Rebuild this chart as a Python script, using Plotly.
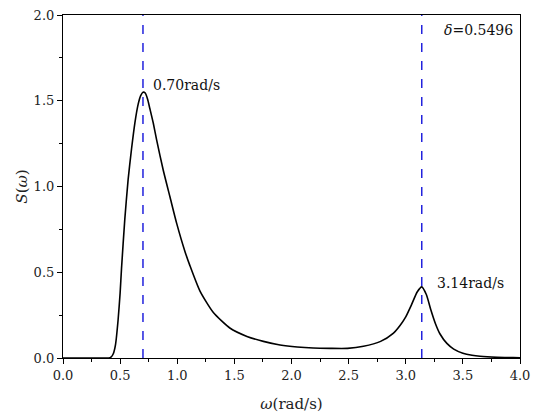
import plotly.graph_objects as go

# Spectrum S(omega)
omega = [0.0, 0.30, 0.40, 0.42, 0.44, 0.46, 0.482, 0.50, 0.512, 0.541, 0.570, 0.600, 0.629, 0.658,
         0.68, 0.70, 0.72, 0.74, 0.76, 0.79, 0.82, 0.877, 0.936, 0.995, 1.068, 1.11, 1.199, 1.316,
         1.46, 1.61, 1.754, 1.90, 2.05, 2.19, 2.34, 2.49, 2.63, 2.78, 2.89, 2.95, 3.0,
         3.05, 3.10, 3.14, 3.18, 3.22, 3.26, 3.30, 3.36, 3.42, 3.50, 3.58, 3.65, 3.80, 3.94, 4.0]
S = [0.0, 0.0, 0.0, 0.005, 0.025, 0.08, 0.22, 0.38, 0.52, 0.81, 1.04, 1.22, 1.37, 1.48,
     1.53, 1.55, 1.545, 1.51, 1.455, 1.37, 1.27, 1.096, 0.94, 0.785, 0.62, 0.54, 0.39, 0.265,
     0.175, 0.126, 0.097, 0.076, 0.064, 0.058, 0.056, 0.056, 0.068, 0.097, 0.144, 0.19, 0.24,
     0.31, 0.385, 0.415, 0.37, 0.28, 0.2, 0.14, 0.085, 0.052, 0.028, 0.016, 0.01, 0.004, 0.002, 0.001]

peak_freqs = [0.70, 3.14]
peak_labels = ["0.70rad/s", "3.14rad/s"]
peak_label_pos = [(0.77, 1.59), (3.26, 0.44)]
delta_text = "<i>δ</i>=0.5496"

x_ticks = [0.0, 0.5, 1.0, 1.5, 2.0, 2.5, 3.0, 3.5, 4.0]
y_ticks = [0.0, 0.5, 1.0, 1.5, 2.0]

FONT = "DejaVu Serif"

fig = go.Figure()
for f in peak_freqs:
    fig.add_trace(go.Scatter(x=[f, f], y=[0, 2], mode="lines",
                             line=dict(color="#2222dd", width=1.5, dash="dash"),
                             showlegend=False, hoverinfo="skip"))
fig.add_trace(go.Scatter(x=omega, y=S, mode="lines",
                         line=dict(color="black", width=1.6, shape="spline", smoothing=0.6),
                         showlegend=False))

for txt, (xx, yy) in zip(peak_labels, peak_label_pos):
    fig.add_annotation(x=xx, y=yy, text=txt, showarrow=False, xanchor="left",
                       yanchor="middle", font=dict(family=FONT, size=14, color="#111"))
fig.add_annotation(x=3.96, y=1.91, text=delta_text, showarrow=False, xanchor="right",
                   yanchor="middle", font=dict(family=FONT, size=14, color="#111"))

axis_common = dict(showline=True, linecolor="black", linewidth=1.2, mirror=True,
                   ticks="outside", ticklen=5, tickwidth=1.2, tickcolor="black",
                   showgrid=False, zeroline=False, automargin=False,
                   tickfont=dict(family=FONT, size=13, color="#222"))
fig.update_xaxes(range=[0, 4], tickvals=x_ticks, tickformat=".1f",
                 minor=dict(dtick=0.25, ticks="outside", ticklen=3, tickwidth=1.2,
                            tickcolor="black"),
                 title=dict(text="<i>ω</i>(rad/s)", font=dict(family=FONT, size=15, color="#222"),
                            standoff=16),
                 **axis_common)
fig.update_yaxes(range=[0, 2], tickvals=y_ticks, tickformat=".1f",
                 minor=dict(dtick=0.25, ticks="outside", ticklen=3, tickwidth=1.2,
                            tickcolor="black"),
                 title=dict(text="<i>S</i>(<i>ω</i>)", font=dict(family=FONT, size=15, color="#222"),
                            standoff=2),
                 **axis_common)
fig.update_layout(width=537, height=416, plot_bgcolor="white", paper_bgcolor="white",
                  template="none", font=dict(family=FONT),
                  margin=dict(l=63, r=17, t=15, b=58))
fig.write_html("out.html", config={"displayModeBar": False},
               post_script="document.body.style.margin='0';document.body.style.overflow='hidden';")
